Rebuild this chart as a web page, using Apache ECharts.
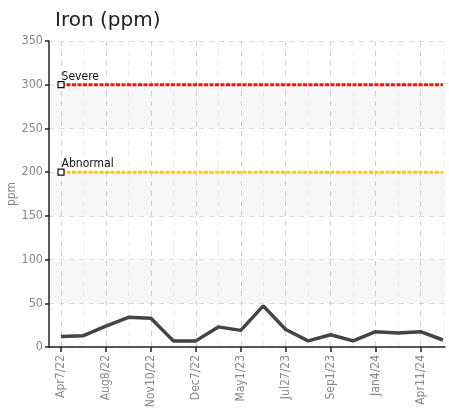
<!DOCTYPE html>
<html>
<head>
<meta charset="utf-8">
<script src="https://cdn.jsdelivr.net/npm/echarts@6/dist/echarts.min.js"></script>
<style>
  html, body { margin: 0; padding: 0; background: #fff; }
  #chart { width: 449px; height: 411px; }
</style>
</head>
<body>
<div id="chart"></div>
<script>
// dates of the samples (only every other one is labelled on the axis)
const fechas = ['Apr7/22', 'Jun6/22', 'Aug8/22', 'Sep9/22', 'Nov10/22', 'Nov24/22', 'Dec7/22', 'Feb15/23',
  'May1/23', 'Jun8/23', 'Jul27/23', 'Aug10/23', 'Sep1/23', 'Nov2/23', 'Jan4/24', 'Feb29/24', 'Apr11/24', 'Jun6/24'];
const hierro = [12, 13, 24, 34, 33, 7, 7, 23, 19, 47, 20, 7, 14, 7, 17.5, 16, 17.5, 8];
const limiteSevero = 300;
const limiteAnormal = 200;
const marcasY = [0, 350, 50]; // min, max, intervalo

const fonteEixo = '"DejaVu Sans Condensed", sans-serif';

const grafico = echarts.init(document.getElementById('chart'));

// linha constante de limite, com marcador só no primeiro ponto
function linhaLimite(nome, valor, cor) {
  return {
    type: 'line',
    name: nome,
    xAxisIndex: 1,
    yAxisIndex: 1,
    data: fechas.map((f, i) => i === 0 ? {
      value: valor,
      symbol: 'rect',
      symbolSize: 6,
      itemStyle: { color: '#fff', borderColor: '#111', borderWidth: 1.2 },
      label: {
        show: true, formatter: nome, position: 'right', offset: [-8, -8],
        color: '#111', fontSize: 12, fontFamily: fonteEixo
      }
    } : valor),
    symbol: 'none',
    lineStyle: { color: cor, width: 3, type: [4, 1.5] },
    silent: true,
    z: 3
  };
}

grafico.setOption({
  animation: false,
  title: {
    text: 'Iron (ppm)', left: 50, top: 6,
    textStyle: { fontFamily: '"DejaVu Sans", sans-serif', fontSize: 20, fontWeight: 'normal', color: '#222' }
  },
  grid: [
    { left: 49, right: 4, top: 41, bottom: 64, outerBoundsMode: 'none' },
    { left: 61, right: 6, top: 41, bottom: 64, outerBoundsMode: 'none' }
  ],
  xAxis: [
    {
      gridIndex: 0, type: 'value', min: 0, max: 1,
      axisLine: { show: true, lineStyle: { color: '#222', width: 1.5 } },
      axisTick: { show: false }, axisLabel: { show: false }, splitLine: { show: false }
    },
    {
      gridIndex: 1, type: 'category', data: fechas, boundaryGap: false,
      axisLine: { show: false },
      axisTick: { show: true, interval: 1, length: 5, lineStyle: { color: '#222', width: 1.5 } },
      axisLabel: {
        interval: 1, rotate: 90, margin: 8, color: '#888', fontSize: 12, fontFamily: fonteEixo
      },
      splitLine: { show: true, interval: 0, lineStyle: { color: ['#cfcfcf', '#ececec'], type: [5, 5], width: 1 } }
    }
  ],
  yAxis: [
    {
      gridIndex: 0, type: 'value', min: marcasY[0], max: marcasY[1], interval: marcasY[2],
      name: 'ppm', nameLocation: 'middle', nameGap: 31, nameMoveOverlap: false,
      nameTextStyle: { color: '#888', fontSize: 12, fontFamily: fonteEixo },
      axisLine: { show: true, lineStyle: { color: '#222', width: 1.5 } },
      axisTick: { show: true, length: 4, lineStyle: { color: '#222', width: 1.5 } },
      axisLabel: { color: '#888', fontSize: 12.5, margin: 6, fontFamily: fonteEixo },
      splitLine: { show: true, lineStyle: { color: '#dcdcdc', type: [5, 5] } },
      splitArea: { show: true, areaStyle: { color: ['rgba(255,255,255,0)', '#f7f7f7'] } }
    },
    {
      gridIndex: 1, type: 'value', min: marcasY[0], max: marcasY[1], interval: marcasY[2], show: false
    }
  ],
  series: [
    linhaLimite('Severe', limiteSevero, '#ff1010'),
    linhaLimite('Abnormal', limiteAnormal, '#ffcc00'),
    {
      type: 'line',
      name: 'Iron',
      xAxisIndex: 1,
      yAxisIndex: 1,
      data: hierro,
      symbol: 'none',
      lineStyle: { color: '#444', width: 3.5 },
      z: 4
    }
  ]
});
</script>
</body>
</html>
